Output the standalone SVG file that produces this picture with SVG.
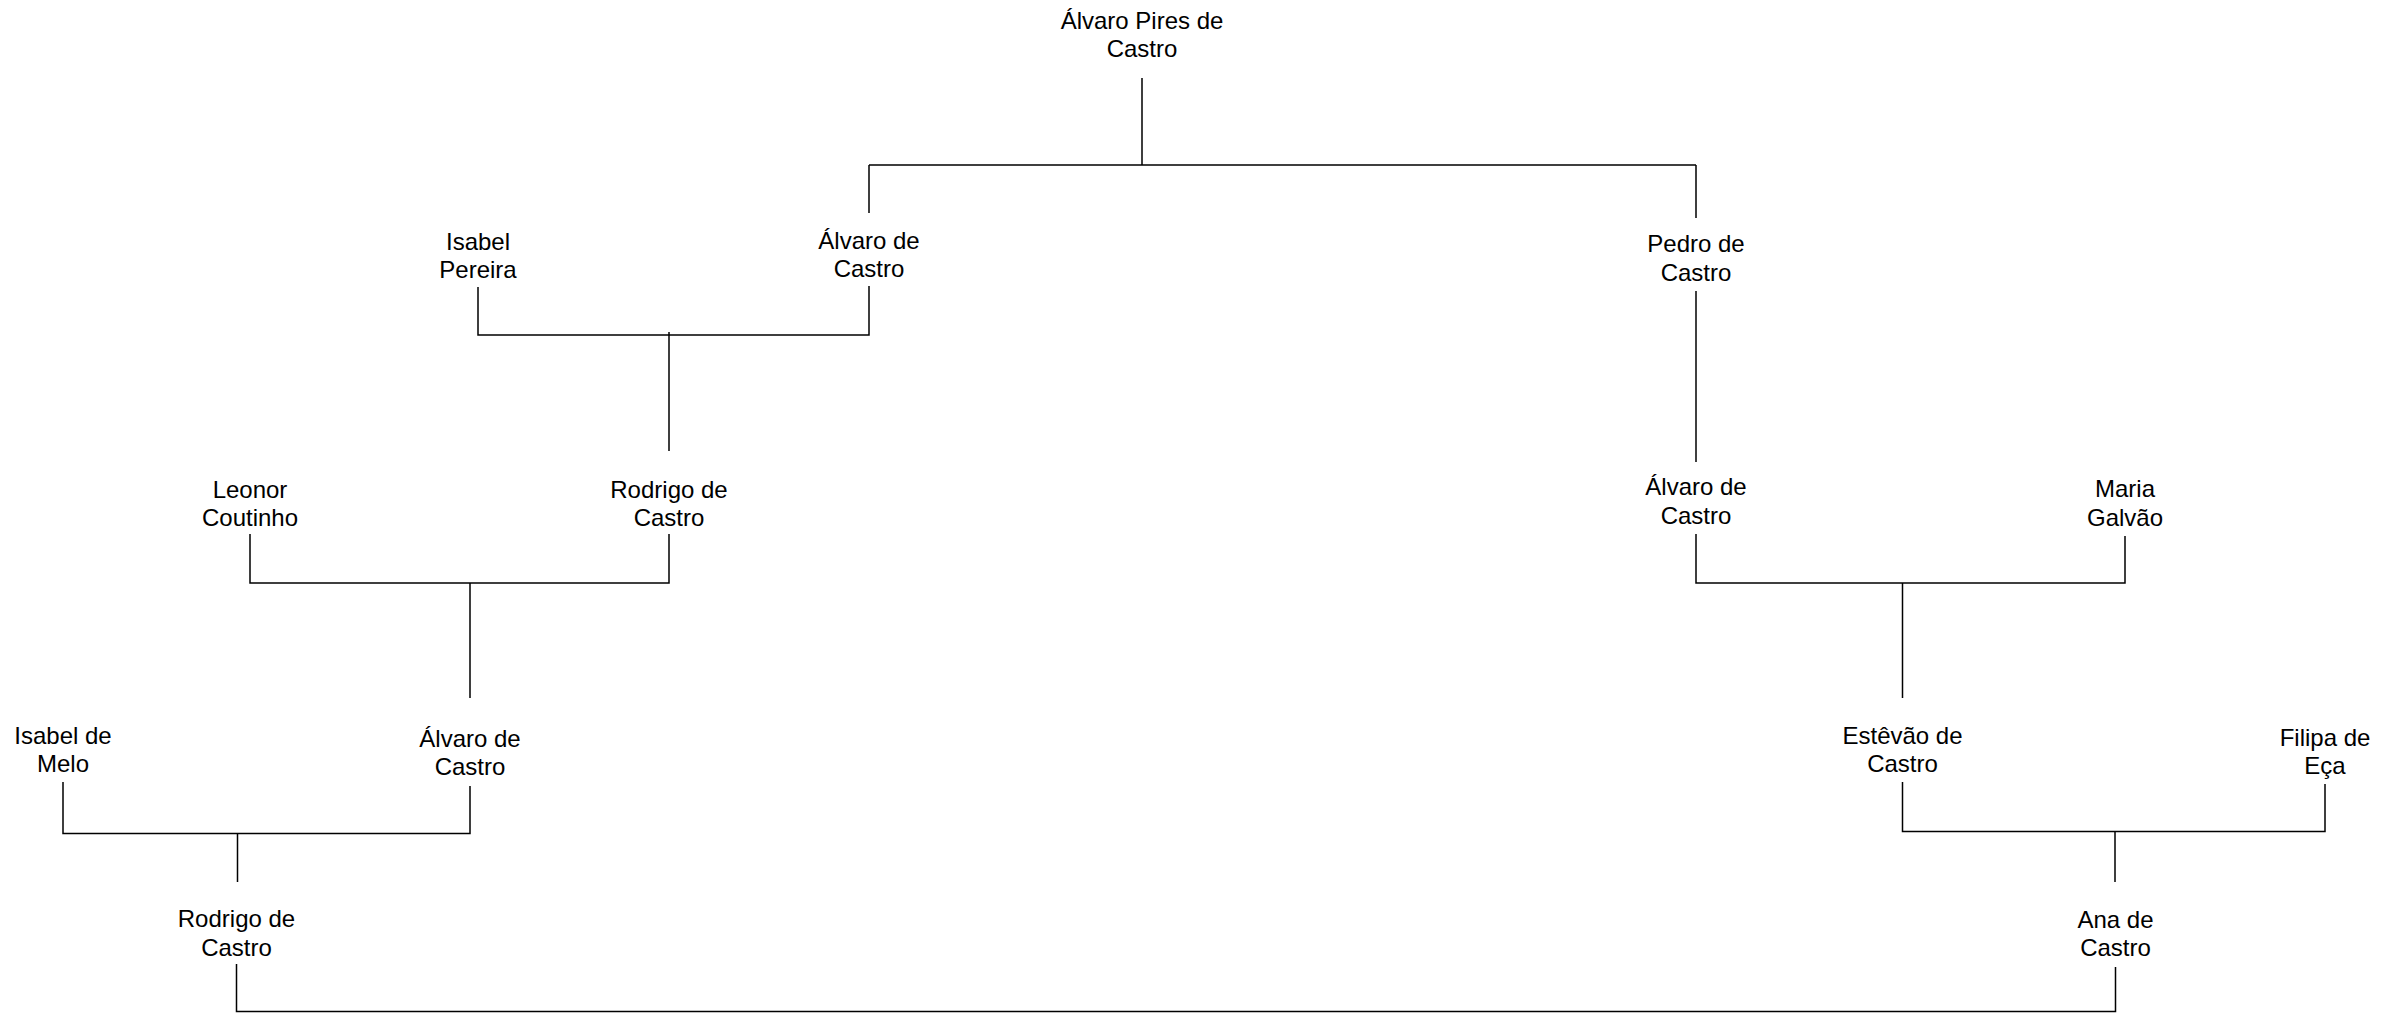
<svg xmlns="http://www.w3.org/2000/svg" width="2400" height="1013" viewBox="0 0 2400 1013">
<style>
text{font-family:"Liberation Sans",Arial,sans-serif;font-size:24px;fill:#000;text-anchor:middle}
.c path{fill:none;stroke:#000;stroke-width:1.5}
</style>
<rect width="2400" height="1013" fill="#fff"/>
<g class="c" id="connectors">
<path d="M1142 78V165M869 165H1696M869 165V213M1696 165V218"/>
<path d="M478 287V335H869V286M669 332V451"/>
<path d="M1696 291V462"/>
<path d="M250 534V583H669V534M470 583V698"/>
<path d="M1696 534V583H2125V536M1902.5 583V698"/>
<path d="M63 782V833.5H470V786M237.5 833V882"/>
<path d="M1902.5 782V831.5H2325V784M2115 831V882"/>
<path d="M236.5 964V1011.5H2115.5V967"/>
</g>
<g id="n1"><text x="1142" y="28.5">Álvaro Pires de</text><text x="1142" y="57">Castro</text></g>
<g id="n2"><text x="478" y="249.5">Isabel</text><text x="478" y="278">Pereira</text></g>
<g id="n3"><text x="869" y="248.5">Álvaro de</text><text x="869" y="277">Castro</text></g>
<g id="n4"><text x="1696" y="252">Pedro de</text><text x="1696" y="281">Castro</text></g>
<g id="n5"><text x="250" y="497.5">Leonor</text><text x="250" y="526">Coutinho</text></g>
<g id="n6"><text x="669" y="497.5">Rodrigo de</text><text x="669" y="526">Castro</text></g>
<g id="n7"><text x="1696" y="495">Álvaro de</text><text x="1696" y="523.5">Castro</text></g>
<g id="n8"><text x="2125" y="497">Maria</text><text x="2125" y="526">Galvão</text></g>
<g id="n9"><text x="63" y="743.5">Isabel de</text><text x="63" y="772">Melo</text></g>
<g id="n10"><text x="470" y="746.5">Álvaro de</text><text x="470" y="775">Castro</text></g>
<g id="n11"><text x="1902.5" y="743.5">Estêvão de</text><text x="1902.5" y="772">Castro</text></g>
<g id="n12"><text x="2325" y="745.5">Filipa de</text><text x="2325" y="773.5">Eça</text></g>
<g id="n13"><text x="236.5" y="927">Rodrigo de</text><text x="236.5" y="956">Castro</text></g>
<g id="n14"><text x="2115.5" y="927.5">Ana de</text><text x="2115.5" y="956">Castro</text></g>
</svg>
